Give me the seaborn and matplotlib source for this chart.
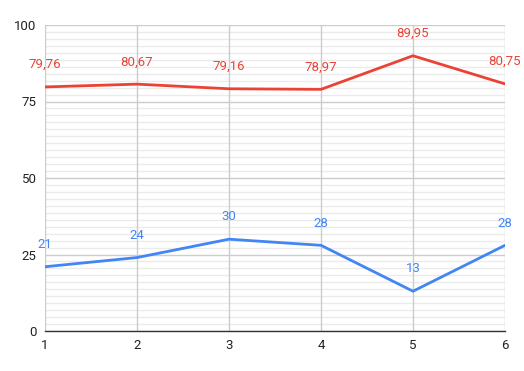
import numpy as np
import pandas as pd
import matplotlib
matplotlib.use("Agg")
import matplotlib.pyplot as plt
from matplotlib.ticker import MultipleLocator
import seaborn as sns

# %% data
x_vals = [1, 2, 3, 4, 5, 6]
red_vals = [79.76, 80.67, 79.16, 78.97, 89.95, 80.75]
blue_vals = [21, 24, 30, 28, 13, 28]
red_labels = ["79,76", "80,67", "79,16", "78,97", "89,95", "80,75"]
blue_labels = ["21", "24", "30", "28", "13", "28"]

RED = "#ea4335"
BLUE = "#4285f4"

df = pd.DataFrame({"x": x_vals * 2,
                   "y": red_vals + blue_vals,
                   "series": ["red"] * 6 + ["blue"] * 6})

# %% plot
sns.set_style("white")
plt.rcParams["font.family"] = ["Roboto", "DejaVu Sans"]

fig = plt.figure(figsize=(5.24, 3.71), dpi=100)
ax = fig.add_axes([45 / 524, 40 / 371, 460 / 524, 306 / 371])

sns.lineplot(data=df, x="x", y="y", hue="series",
             palette={"red": RED, "blue": BLUE},
             linewidth=2, legend=False, ax=ax, zorder=3)

ax.set_xlim(1, 6)
ax.set_ylim(0, 100)
ax.set_xticks(x_vals)
ax.set_yticks([0, 25, 50, 75, 100])
ax.yaxis.set_minor_locator(MultipleLocator(25 / 11))
ax.grid(True, which="major", color="#cccccc", linewidth=1)
ax.grid(True, which="minor", axis="y", color="#ebebeb", linewidth=1)
ax.set_axisbelow(True)
# vertical gridlines on top of the light minor ones
ax.yaxis.set_zorder(0.4)
ax.xaxis.set_zorder(0.6)
ax.tick_params(which="both", length=0, labelsize=9.5, colors="#222222", pad=6)
ax.set_xlabel("")
ax.set_ylabel("")

for s in ["top", "right", "left"]:
    ax.spines[s].set_visible(False)
ax.spines["bottom"].set_color("#333333")
ax.spines["bottom"].set_linewidth(1)
ax.spines["bottom"].set_zorder(4)

for xv, yv, lab in zip(x_vals, red_vals, red_labels):
    ax.annotate(lab, (xv, yv), xytext=(0, 16), textcoords="offset points",
                ha="center", va="center", color=RED, fontsize=9.5)
for xv, yv, lab in zip(x_vals, blue_vals, blue_labels):
    ax.annotate(lab, (xv, yv), xytext=(0, 16), textcoords="offset points",
                ha="center", va="center", color=BLUE, fontsize=9.5)

fig.savefig("out.png", dpi=100)
